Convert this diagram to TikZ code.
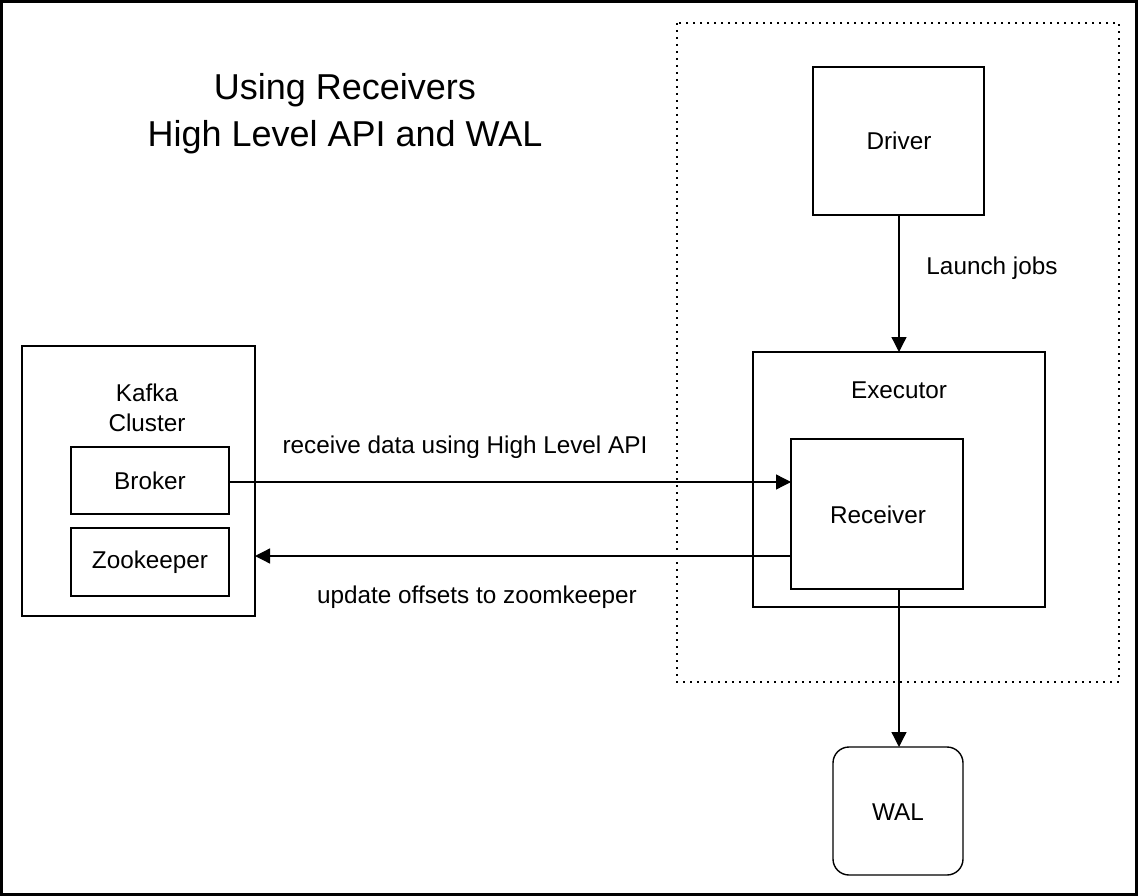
\documentclass[tikz,border=0pt]{standalone}
\usepackage{fontspec}
\setmainfont{Liberation Sans}
\usetikzlibrary{arrows.meta}
\begin{document}
\begin{tikzpicture}[x=1pt,y=-1pt,
  box/.style={draw, line width=1.4pt, inner sep=0pt},
  lbl/.style={font=\fontsize{24.3}{30}\selectfont, inner sep=0pt},
  conn/.style={line width=1.3pt, -{Triangle[length=15pt,width=15pt]}},
]
\useasboundingbox (0,0) rectangle (1138,896);
\draw[line width=3pt] (1.5,1.5) rectangle (1136.5,894.5);
% title
\node[lbl, font=\fontsize{36}{47}\selectfont, align=center] (title) at (345,114) {Using Receivers\\High Level API and WAL};
% dotted region
\draw[line width=1.3pt, dash pattern=on 2pt off 5pt] (677,23) rectangle (1119,682);
% Kafka cluster
\draw[box] (22,346) rectangle (255,616);
\node[lbl, align=center] (kafka) at (147,408) {Kafka\\Cluster};
\draw[box] (71,447) rectangle (229,514);
\node[lbl] (broker) at (150,481) {Broker};
\coordinate (brokerR) at (229,482);
\draw[box] (71,528) rectangle (229,596);
\node[lbl] (zoo) at (150,562) {Zookeeper};
% Driver
\draw[box] (813,67) rectangle (984,215);
\node[lbl] (driver) at (899,141) {Driver};
\coordinate (driverB) at (899,215);
% Executor
\draw[box] (753,352) rectangle (1045,607);
\node[lbl] (executor) at (899,390) {Executor};
\coordinate (execT) at (899,352);
% Receiver
\draw[box] (791,439) rectangle (963,589);
\node[lbl] (receiver) at (878,515) {Receiver};
\coordinate (recvL1) at (791,482);
\coordinate (recvL2) at (791,556);
\coordinate (recvB) at (899,589);
\coordinate (kafkaRA) at (255,556);
% WAL
\draw[box, rounded corners=16pt] (833,747) rectangle (963,875);
\node[lbl] (wal) at (898,812) {WAL};
\coordinate (walT) at (899,747);
% connectors
\draw[conn] (driverB) -- (execT);
\node[lbl] (launch) at (992,268) {Launch jobs};
\draw[conn] (brokerR) -- (recvL1);
\node[lbl] (recvdata) at (465,447) {receive data using High Level API};
\draw[conn] (recvL2) -- (kafkaRA);
\node[lbl] (update) at (477,597) {update offsets to zoomkeeper};
\draw[conn] (recvB) -- (walT);
\end{tikzpicture}
\end{document}
